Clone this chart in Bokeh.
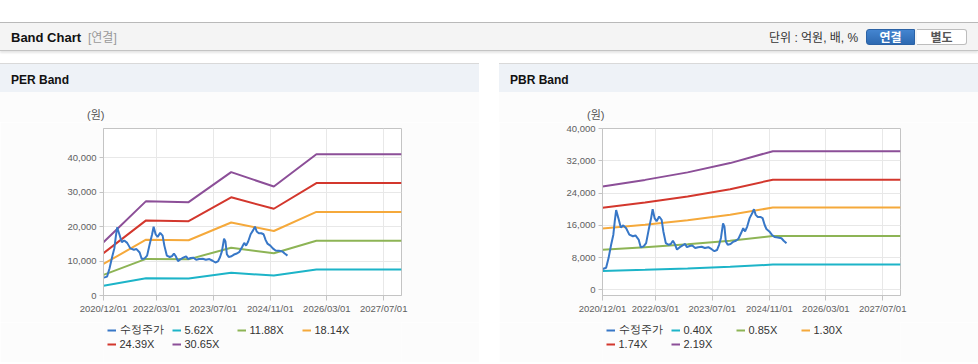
import pandas as pd
from bokeh.plotting import figure
from bokeh.models import (Range1d, FixedTicker, DatetimeTickFormatter, NumeralTickFormatter,
                          Legend, LegendItem, Div, Spacer)
from bokeh.layouts import column, row
from bokeh.embed import file_html
from bokeh.resources import INLINE

# ---------------- data ----------------
price_dates = [
    "2020-12-04", "2021-01-01", "2021-01-22", "2021-02-13", "2021-03-04", "2021-03-16",
    "2021-03-28", "2021-04-16", "2021-05-07", "2021-05-28", "2021-06-22", "2021-07-19",
    "2021-08-19", "2021-09-10", "2021-10-07", "2021-10-25", "2021-11-19", "2021-12-10",
    "2022-01-01", "2022-01-22", "2022-02-04", "2022-02-21", "2022-03-10", "2022-04-01",
    "2022-04-22", "2022-05-07", "2022-05-28", "2022-06-22", "2022-07-10", "2022-07-28",
    "2022-08-13", "2022-09-01", "2022-09-25", "2022-10-16", "2022-11-10", "2022-11-25",
    "2022-12-19", "2023-01-10", "2023-02-04", "2023-03-01", "2023-04-01", "2023-04-28",
    "2023-05-28", "2023-06-25", "2023-07-19", "2023-08-10", "2023-08-28", "2023-09-13",
    "2023-10-01", "2023-10-13", "2023-10-25", "2023-11-10", "2023-12-04", "2023-12-25",
    "2024-01-19", "2024-02-10", "2024-03-04", "2024-03-22", "2024-04-07", "2024-04-25",
    "2024-05-16", "2024-06-07", "2024-06-22", "2024-07-07", "2024-07-25", "2024-08-16",
    "2024-09-04", "2024-09-22", "2024-10-07", "2024-11-01", "2024-11-22", "2024-12-16",
    "2025-01-13", "2025-02-13", "2025-03-04", "2025-03-28",
]
price_values = [
    5200, 5500, 7900, 11200, 13700, 17000,
    19800, 17800, 15500, 16000, 15300, 13700,
    13300, 13500, 12500, 10600, 10800, 11600,
    14900, 17800, 20000, 17800, 17000, 18200,
    17400, 14500, 11600, 11200, 11400, 12200,
    11400, 10000, 10600, 11000, 11400, 10600,
    10900, 11000, 10400, 10600, 10700, 10400,
    10600, 10100, 9600, 9900, 11200, 12900,
    16500, 15700, 12000, 11200, 11400, 11900,
    12200, 12700, 14100, 15300, 14500, 15700,
    17800, 19000, 20000, 18600, 18100, 18100,
    17800, 16100, 15100, 14500, 13700, 13100,
    13000, 12800, 12200, 11600,
]

per_dates = ["2020-12-01", "2021-12-01", "2022-12-01", "2023-12-01", "2024-12-01", "2025-12-01", "2027-12-01"]
per_562 = [2840, 5030, 4970, 6580, 5810, 7530, 7530]
per_1188 = [6000, 10630, 10510, 13900, 12280, 15920, 15920]
per_1814 = [9160, 16235, 16050, 21220, 18760, 24310, 24310]
per_2439 = [12320, 21830, 21590, 28540, 25220, 32680, 32680]
per_3065 = [15480, 27430, 27130, 35860, 31690, 41070, 41070]
per_labels = ["5.62X", "11.88X", "18.14X", "24.39X", "30.65X"]

pbr_dates = ["2020-12-01", "2021-12-01", "2022-12-01", "2023-12-01", "2024-12-01", "2027-12-01"]
pbr_040 = [4680, 4980, 5320, 5740, 6280, 6280]
pbr_085 = [9945, 10580, 11305, 12200, 13345, 13345]
pbr_130 = [15210, 16185, 17290, 18655, 20410, 20410]
pbr_174 = [20360, 21660, 23140, 24970, 27320, 27320]
pbr_219 = [25620, 27270, 29130, 31430, 34380, 34380]
pbr_labels = ["0.40X", "0.85X", "1.30X", "1.74X", "2.19X"]

price_label = "수정주가"
x_tick_dates = ["2020-12-01", "2022-03-01", "2023-07-01", "2024-11-01", "2026-03-01", "2027-07-01"]
per_y_ticks = [0, 10000, 20000, 30000, 40000]
pbr_y_ticks = [0, 8000, 16000, 24000, 32000, 40000]
unit_text = "(원)"

# ---------------- style ----------------
FONT = "Liberation Sans"
PRICE_COLOR = "#3777c7"
BAND_COLORS = ["#1db4c8", "#8db455", "#f5a93b", "#d3372d", "#8c4f98"]
PANEL_BG = "#fcfcfc"
X0 = pd.Timestamp("2020-12-01")
X1 = pd.Timestamp("2027-12-01")


def ms(d):
    return pd.Timestamp(d).value / 1e6


def make_panel(band_dates, bands, labels, y_start, y_end, y_ticks):
    p = figure(title=None, frame_width=298, frame_height=167, x_axis_type="datetime",
               x_range=Range1d(X0, X1), y_range=Range1d(y_start, y_end),
               output_backend="svg", toolbar_location=None,
               min_border_left=103, min_border_right=78,
               min_border_top=6, min_border_bottom=27)
    p.border_fill_color = PANEL_BG
    p.background_fill_color = "#ffffff"
    p.outline_line_color = "#c4c4c4"
    p.grid.grid_line_color = "#e8e8e8"

    p.xaxis.ticker = FixedTicker(ticks=[ms(d) for d in x_tick_dates])
    fmt = "%Y/%m/%d"
    p.xaxis.formatter = DatetimeTickFormatter(
        milliseconds=fmt, seconds=fmt, minsec=fmt, minutes=fmt, hourmin=fmt,
        hours=fmt, days=fmt, months=fmt, years=fmt)
    p.yaxis.ticker = FixedTicker(ticks=y_ticks)
    p.yaxis.formatter = NumeralTickFormatter(format="0,0")
    for ax in (p.xaxis, p.yaxis):
        ax.axis_line_color = "#c4c4c4"
        ax.major_tick_line_color = "#c4c4c4"
        ax.minor_tick_line_color = None
        ax.major_tick_in = 0
        ax.major_label_text_font = FONT
        ax.major_label_text_font_size = "9.5px"
        ax.major_label_text_color = "#606060"
    p.xaxis.major_tick_out = 5
    p.xaxis.major_label_standoff = 2
    p.yaxis.major_tick_out = 4
    p.yaxis.major_label_standoff = 3

    bd = pd.to_datetime(band_dates)
    for vals, col in zip(bands, BAND_COLORS):
        p.line(bd, vals, line_color=col, line_width=2)
    p.line(pd.to_datetime(price_dates), price_values, line_color=PRICE_COLOR, line_width=2)

    # legend strip: a small figure below, its legend sits inside its own frame
    lg = figure(title=None, width=479, height=40, x_range=Range1d(0, 1), y_range=Range1d(0, 1),
                x_axis_location=None, y_axis_location=None,
                output_backend="svg", toolbar_location=None, min_border=0)
    lg.grid.visible = False
    lg.outline_line_color = None
    lg.border_fill_color = PANEL_BG
    lg.background_fill_color = PANEL_BG
    names = [price_label] + labels
    colors = [PRICE_COLOR] + BAND_COLORS
    items = []
    for name, col in zip(names, colors):
        # a single NaN point: nothing drawn, only supplies the legend swatch
        r = lg.line(x=[float("nan")], y=[float("nan")], line_color=col, line_width=2)
        items.append(LegendItem(label=name, renderers=[r]))
    leg = Legend(items=items, location=(3.5, 11), orientation="horizontal", ncols=4,
                 glyph_width=9, glyph_height=14, label_standoff=4, label_width=52,
                 label_height=14, spacing=0, padding=0, margin=0,
                 border_line_alpha=0, background_fill_alpha=0,
                 label_text_font=FONT, label_text_font_size="11px",
                 label_text_color="#333333")
    lg.add_layout(leg)
    return p, lg


per_fig, per_leg = make_panel(per_dates, [per_562, per_1188, per_1814, per_2439, per_3065], per_labels,
                              0, 48550, per_y_ticks)
pbr_fig, pbr_leg = make_panel(pbr_dates, [pbr_040, pbr_085, pbr_130, pbr_174, pbr_219], pbr_labels,
                              -1370, 40000, pbr_y_ticks)

FF = "font-family:'Liberation Sans','Noto Sans CJK KR',sans-serif;"

top_html = f"""
<div style="position:relative;width:978px;height:63px;{FF}">
  <div style="position:absolute;left:0;top:22px;width:978px;height:29px;background:#f4f4f4;border-top:1px solid #b9b9b9;border-bottom:1px solid #c4c4c4;box-shadow:0 2px 2px rgba(0,0,0,0.10);">
    <span style="position:absolute;left:11px;top:7px;line-height:16px;font-size:13px;font-weight:bold;color:#111;white-space:nowrap;">Band Chart</span>
    <span style="position:absolute;left:88px;top:7px;line-height:16px;font-size:12px;color:#999;white-space:nowrap;">[연결]</span>
    <span style="position:absolute;left:769px;top:7px;line-height:16px;font-size:12px;color:#333;white-space:nowrap;">단위 : 억원, 배, %</span>
    <div style="position:absolute;left:866px;top:6px;width:49px;height:16px;background:linear-gradient(#4485d0,#2d69b1);border:1px solid #2b62a5;border-radius:3px 0 0 3px;color:#fff;font-size:12px;font-weight:bold;line-height:16px;text-align:center;">연결</div>
    <div style="position:absolute;left:917px;top:6px;width:50px;height:16px;background:#fff;border:1px solid #bdbdbd;border-left:none;border-radius:0 3px 3px 0;color:#555;font-size:12px;font-weight:bold;line-height:16px;text-align:center;">별도</div>
  </div>
</div>"""


def header_html(text, unit_left):
    return f"""
<div style="position:relative;width:479px;height:59px;background:{PANEL_BG};{FF}">
  <div style="position:absolute;left:0;top:0;width:479px;height:29px;background:#eef2f7;border-top:1px solid #d9d9d9;">
    <span style="position:absolute;left:11px;top:8px;line-height:16px;font-size:12px;font-weight:bold;color:#111;white-space:nowrap;">{text}</span>
  </div>
  <div style="position:absolute;left:{unit_left}px;top:46px;width:40px;height:13px;line-height:13px;font-size:11px;color:#555;white-space:nowrap;z-index:5;">{unit_text}</div>
</div>"""


foot_html = '<div style="width:479px;height:1px;border-top:1px solid #d4d4d4;"></div>'

top_div = Div(text=top_html, width=978, height=63, margin=0)
per_head = Div(text=header_html("PER Band", 87), width=479, height=59, margin=0)
pbr_head = Div(text=header_html("PBR Band", 88), width=479, height=59, margin=0,
               styles={"z-index": "5"})
per_foot = Div(text=foot_html, width=479, height=2, margin=0)
pbr_foot = Div(text=foot_html, width=479, height=2, margin=0)

layout = column(
    top_div,
    row(column(per_head, per_fig, per_leg, per_foot, spacing=0),
        Spacer(width=20, height=301, margin=0),
        column(pbr_head, pbr_fig, pbr_leg, pbr_foot, spacing=0), spacing=0),
    spacing=0,
)

p = layout
open("out.html", "w").write(file_html(p, INLINE))
